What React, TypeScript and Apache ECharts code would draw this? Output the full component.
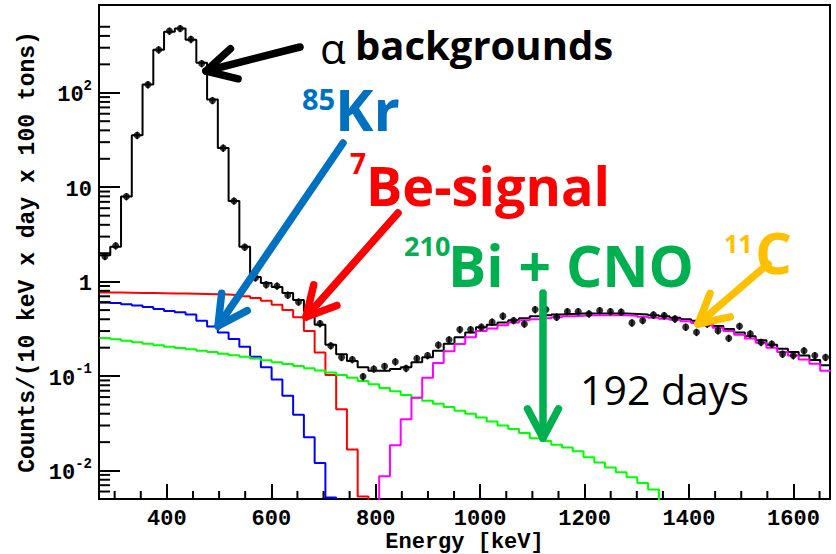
import React, { useEffect, useRef } from "react";
import * as echarts from "echarts";

// ---------- axis ranges / binning ----------
const X_MIN = 270;
const X_MAX = 1670;
const Y_MIN = 0.005;
const Y_MAX = 850;
const BIN_LOW = 271; // low edge of first histogram bin (keV)
const BIN_WIDTH = 20.6; // histogram bin width (keV)

// ---------- data (counts / (10 keV x day x 100 tons)) ----------
// total fit (black histogram), bins 0..67
const totalFit = [
  1.9, 2.34, 7.96, 35.5, 122, 285, 442, 480, 364, 208,
  85, 26, 7.15, 2.34, 1.12, 0.97, 0.88, 0.76, 0.64, 0.49,
  0.35, 0.215, 0.17, 0.145, 0.124, 0.114, 0.114, 0.119, 0.124, 0.14,
  0.158, 0.186, 0.22, 0.258, 0.29, 0.33, 0.35, 0.37, 0.39, 0.41,
  0.43, 0.44, 0.45, 0.455, 0.46, 0.46, 0.46, 0.46, 0.46, 0.455,
  0.45, 0.44, 0.43, 0.415, 0.4, 0.385, 0.365, 0.34, 0.315, 0.29,
  0.265, 0.24, 0.215, 0.195, 0.18, 0.165, 0.148, 0.13,
];
// measured data points, bins 0..67
const dataCounts = [
  1.85, 2.4, 7.96, 35.5, 122, 285, 450, 480, 368, 204,
  83, 26, 7.15, 2.32, 1.1, 0.93, 0.9, 0.72, 0.61, 0.48,
  0.36, 0.21, 0.158, 0.15, 0.099, 0.119, 0.127, 0.142, 0.121, 0.154,
  0.165, 0.214, 0.243, 0.311, 0.311, 0.33, 0.373, 0.432, 0.388, 0.357,
  0.507, 0.507, 0.421, 0.483, 0.483, 0.457, 0.495, 0.483, 0.476, 0.366,
  0.388, 0.445, 0.438, 0.404, 0.33, 0.291, 0.357, 0.303, 0.252, 0.338,
  0.28, 0.228, 0.219, 0.171, 0.165, 0.186, 0.165, 0.158,
];
const ERR_FRAC = 0.09; // relative size of error bars

// 85Kr (blue), bins 0..22
const kr85 = [
  0.61, 0.595, 0.575, 0.56, 0.54, 0.515, 0.49, 0.475, 0.45, 0.385,
  0.335, 0.29, 0.247, 0.205, 0.16, 0.124, 0.092, 0.062, 0.039, 0.0225,
  0.012, 0.0052, 0.001,
];
// 7Be (red), bins 0..25
const be7 = [
  0.77, 0.77, 0.765, 0.76, 0.76, 0.755, 0.75, 0.75, 0.745, 0.74,
  0.735, 0.73, 0.72, 0.7, 0.67, 0.63, 0.57, 0.5, 0.42, 0.3,
  0.178, 0.103, 0.0446, 0.0167, 0.0053, 0.001,
];
// 210Bi + CNO (green), bins 0..52
const biCno = [
  0.254, 0.245, 0.237, 0.228, 0.22, 0.212, 0.205, 0.198, 0.192, 0.186,
  0.18, 0.173, 0.166, 0.16, 0.154, 0.147, 0.14, 0.134, 0.128, 0.121,
  0.115, 0.109, 0.103, 0.096, 0.089, 0.082, 0.075, 0.069, 0.063, 0.059,
  0.055, 0.051, 0.047, 0.043, 0.04, 0.0365, 0.033, 0.03, 0.0275, 0.025,
  0.022, 0.0205, 0.0188, 0.0175, 0.016, 0.0138, 0.0122, 0.0108, 0.0096, 0.0085,
  0.0074, 0.0063, 0.001,
];
// 11C (magenta), bins 25..67
const C11_FIRST_BIN = 25;
const c11 = [
  0.001, 0.0087, 0.0185, 0.035, 0.059,
  0.096, 0.138, 0.183, 0.219, 0.258, 0.3, 0.32, 0.345, 0.37, 0.39,
  0.4, 0.41, 0.42, 0.43, 0.435, 0.44, 0.44, 0.44, 0.44, 0.435,
  0.425, 0.415, 0.405, 0.395, 0.38, 0.365, 0.345, 0.325, 0.3, 0.275,
  0.25, 0.225, 0.2, 0.18, 0.165, 0.15, 0.135, 0.114,
];

// ---------- ticks ----------
const xMajorTicks = [400, 600, 800, 1000, 1200, 1400, 1600];
const xMinorTicks = [
  300, 350, 450, 500, 550, 650, 700, 750, 850, 900, 950, 1050, 1100, 1150,
  1250, 1300, 1350, 1450, 1500, 1550, 1650,
];
const yMinorTicks = [
  0.006, 0.007, 0.008, 0.009,
  0.02, 0.03, 0.04, 0.05, 0.06, 0.07, 0.08, 0.09,
  0.2, 0.3, 0.4, 0.5, 0.6, 0.7, 0.8, 0.9,
  2, 3, 4, 5, 6, 7, 8, 9,
  20, 30, 40, 50, 60, 70, 80, 90,
  200, 300, 400, 500,
];

const MONO = '"Liberation Mono", "DejaVu Sans Mono", monospace';
const SANS = '"Open Sans", "Liberation Sans", sans-serif';

function stepData(values: number[], firstBin = 0) {
  const pts: number[][] = values.map((v, i) => [BIN_LOW + (firstBin + i) * BIN_WIDTH, v]);
  pts.push([BIN_LOW + (firstBin + values.length) * BIN_WIDTH, values[values.length - 1]]);
  return pts;
}

function histSeries(name: string, values: number[], color: string, firstBin = 0, z = 3) {
  return {
    name,
    type: "line",
    step: "end",
    data: stepData(values, firstBin),
    showSymbol: false,
    symbol: "none",
    clip: true,
    z,
    lineStyle: { color, width: 2 },
    silent: true,
  };
}

function arrow(tip: number[], tail: number[], color: string, width = 7.5, armLen = 33, angleDeg = 28) {
  const dx = tail[0] - tip[0];
  const dy = tail[1] - tip[1];
  const L = Math.hypot(dx, dy);
  const ux = dx / L;
  const uy = dy / L;
  const a = (angleDeg * Math.PI) / 180;
  const r = (ang: number) => [ux * Math.cos(ang) - uy * Math.sin(ang), ux * Math.sin(ang) + uy * Math.cos(ang)];
  const [r1x, r1y] = r(a);
  const [r2x, r2y] = r(-a);
  return [
    {
      type: "line",
      z: 100,
      shape: { x1: tip[0], y1: tip[1], x2: tail[0], y2: tail[1] },
      style: { stroke: color, lineWidth: width, lineCap: "round" },
    },
    {
      type: "polyline",
      z: 100,
      shape: {
        points: [
          [tip[0] + r1x * armLen, tip[1] + r1y * armLen],
          [tip[0], tip[1]],
          [tip[0] + r2x * armLen, tip[1] + r2y * armLen],
        ],
      },
      style: { stroke: color, lineWidth: width, lineCap: "round", lineJoin: "round", fill: "none" },
    },
  ];
}

function label(text: string, x: number, y: number, color: string, size: number, weight = "bold", family = SANS) {
  return {
    type: "text",
    z: 101,
    x,
    y,
    style: {
      text,
      fill: color,
      fontSize: size,
      fontWeight: weight,
      fontFamily: family,
      textAlign: "left",
      align: "left",
      textVerticalAlign: "middle",
      verticalAlign: "middle",
    },
  };
}

const BLUE = "#0070C0";
const RED = "#FF0000";
const GREEN = "#00B050";
const ORANGE = "#FFC000";

export default function App() {
  const ref = useRef<HTMLDivElement>(null);

  useEffect(() => {
    if (!ref.current) return;
    const chart = echarts.init(ref.current, undefined, { renderer: "svg" });

    const centers = dataCounts.map((_, i) => BIN_LOW + (i + 0.5) * BIN_WIDTH);

    const option: any = {
      animation: false,
      backgroundColor: "#fff",
      grid: {
        left: 99,
        right: 6,
        top: 5,
        bottom: 55,
        show: true,
        borderColor: "#000",
        borderWidth: 2,
        backgroundColor: "transparent",
        containLabel: false,
        outerBoundsMode: "none",
      },
      xAxis: {
        type: "value",
        min: X_MIN,
        max: X_MAX,
        axisLine: { show: true, onZero: false, lineStyle: { color: "#000", width: 2 } },
        axisTick: {
          show: true,
          inside: true,
          length: 15,
          customValues: xMajorTicks,
          lineStyle: { color: "#000", width: 2 },
        },
        axisLabel: {
          customValues: xMajorTicks,
          formatter: (v: number) => String(v),
          margin: 9,
          fontFamily: MONO,
          fontWeight: "bold",
          fontSize: 22,
          lineHeight: 22,
          color: "#000",
        },
        splitLine: { show: false },
        name: "Energy [keV]",
        nameLocation: "middle",
        nameGap: 32,
        nameMoveOverlap: false,
        nameTextStyle: { fontFamily: MONO, fontWeight: "bold", fontSize: 22, color: "#000", lineHeight: 22 },
      },
      yAxis: {
        type: "log",
        logBase: 10,
        min: Y_MIN,
        max: Y_MAX,
        axisLine: { show: true, lineStyle: { color: "#000", width: 2 } },
        axisTick: { show: true, inside: true, length: 21, lineStyle: { color: "#000", width: 2 } },
        minorTick: { show: false },
        splitLine: { show: false },
        axisLabel: {
          margin: 7,
          showMinLabel: false,
          showMaxLabel: false,
          formatter: (v: number) => {
            const lg = Math.log10(v);
            const e = Math.round(lg);
            if (Math.abs(lg - e) > 1e-6) return "";
            if (e === 0) return "{b|1}";
            if (e === 1) return "{b|10}";
            return `{b|10}{s|${e}}`;
          },
          rich: {
            b: { fontFamily: MONO, fontWeight: "bold", fontSize: 22, color: "#000", verticalAlign: "bottom", lineHeight: 28 },
            s: { fontFamily: MONO, fontWeight: "bold", fontSize: 14, color: "#000", verticalAlign: "top", lineHeight: 28 },
          },
        },
        name: "Counts/(10 keV x day x 100 tons)",
        nameLocation: "middle",
        nameGap: 60,
        nameRotate: 90,
        nameMoveOverlap: false,
        nameTextStyle: { fontFamily: MONO, fontWeight: "bold", fontSize: 23, color: "#000" },
      },
      series: [
        // minor ticks (y)
        {
          type: "custom",
          silent: true,
          z: 5,
          data: yMinorTicks.map((v) => [X_MIN, v]),
          encode: { x: 0, y: 1 },
          renderItem: (_p: any, api: any) => {
            const pt = api.coord([api.value(0), api.value(1)]);
            return {
              type: "line",
              shape: { x1: pt[0], y1: pt[1], x2: pt[0] + 11, y2: pt[1] },
              style: { stroke: "#000", lineWidth: 2 },
            };
          },
        },
        // minor ticks (x)
        {
          type: "custom",
          silent: true,
          z: 5,
          data: xMinorTicks.map((e) => [e, Y_MIN]),
          encode: { x: 0, y: 1 },
          renderItem: (_p: any, api: any) => {
            const pt = api.coord([api.value(0), api.value(1)]);
            return {
              type: "line",
              shape: { x1: pt[0], y1: pt[1], x2: pt[0], y2: pt[1] - 8 },
              style: { stroke: "#000", lineWidth: 2 },
            };
          },
        },
        histSeries("total", totalFit, "#000000", 0, 3),
        histSeries("85Kr", kr85, "#0000FF", 0, 4),
        histSeries("7Be", be7, "#FF0000", 0, 4),
        histSeries("210Bi+CNO", biCno, "#00FF00", 0, 4),
        histSeries("11C", c11, "#FF00FF", C11_FIRST_BIN, 4),
        // error bars
        {
          type: "custom",
          silent: true,
          z: 6,
          data: dataCounts.map((v, i) => [centers[i], v]),
          encode: { x: 0, y: 1 },
          renderItem: (_p: any, api: any) => {
            const x = api.value(0);
            const v = api.value(1);
            const lo = api.coord([x, v * (1 - ERR_FRAC)]);
            const hi = api.coord([x, v * (1 + ERR_FRAC)]);
            return {
              type: "line",
              shape: { x1: lo[0], y1: lo[1], x2: hi[0], y2: hi[1] },
              style: { stroke: "#000", lineWidth: 1.5 },
            };
          },
        },
        {
          name: "data",
          type: "scatter",
          symbol: "circle",
          symbolSize: 7,
          z: 7,
          silent: true,
          itemStyle: { color: "#000" },
          data: dataCounts.map((v, i) => [centers[i], v]),
        },
      ],
      graphic: [
        ...arrow([206, 71], [300, 47], "#000"),
        ...arrow([218, 326], [343, 143], BLUE),
        ...arrow([306, 317], [398, 213], RED),
        ...arrow([543, 438], [543, 293], GREEN),
        ...arrow([698, 324], [768, 264], ORANGE),
        label("α", 320, 47, "#000", 42, "normal"),
        label("backgrounds", 355, 44, "#000", 40),
        label("85", 302, 98, BLUE, 29),
        label("Kr", 335, 108, BLUE, 58),
        label("7", 350, 163, RED, 28),
        label("Be-signal", 366, 185, RED, 54),
        label("210", 404, 245, GREEN, 27),
        label("Bi + CNO", 448, 265, GREEN, 57),
        label("11", 724, 243, ORANGE, 25),
        label("C", 755, 251, ORANGE, 58),
        label("192 days", 580, 389, "#000", 41, "normal"),
      ],
    };

    chart.setOption(option);
    return () => chart.dispose();
  }, []);

  return (
    <div
      ref={ref}
      style={{ position: "fixed", left: 0, top: 0, width: 836, height: 554, background: "#fff" }}
    />
  );
}
